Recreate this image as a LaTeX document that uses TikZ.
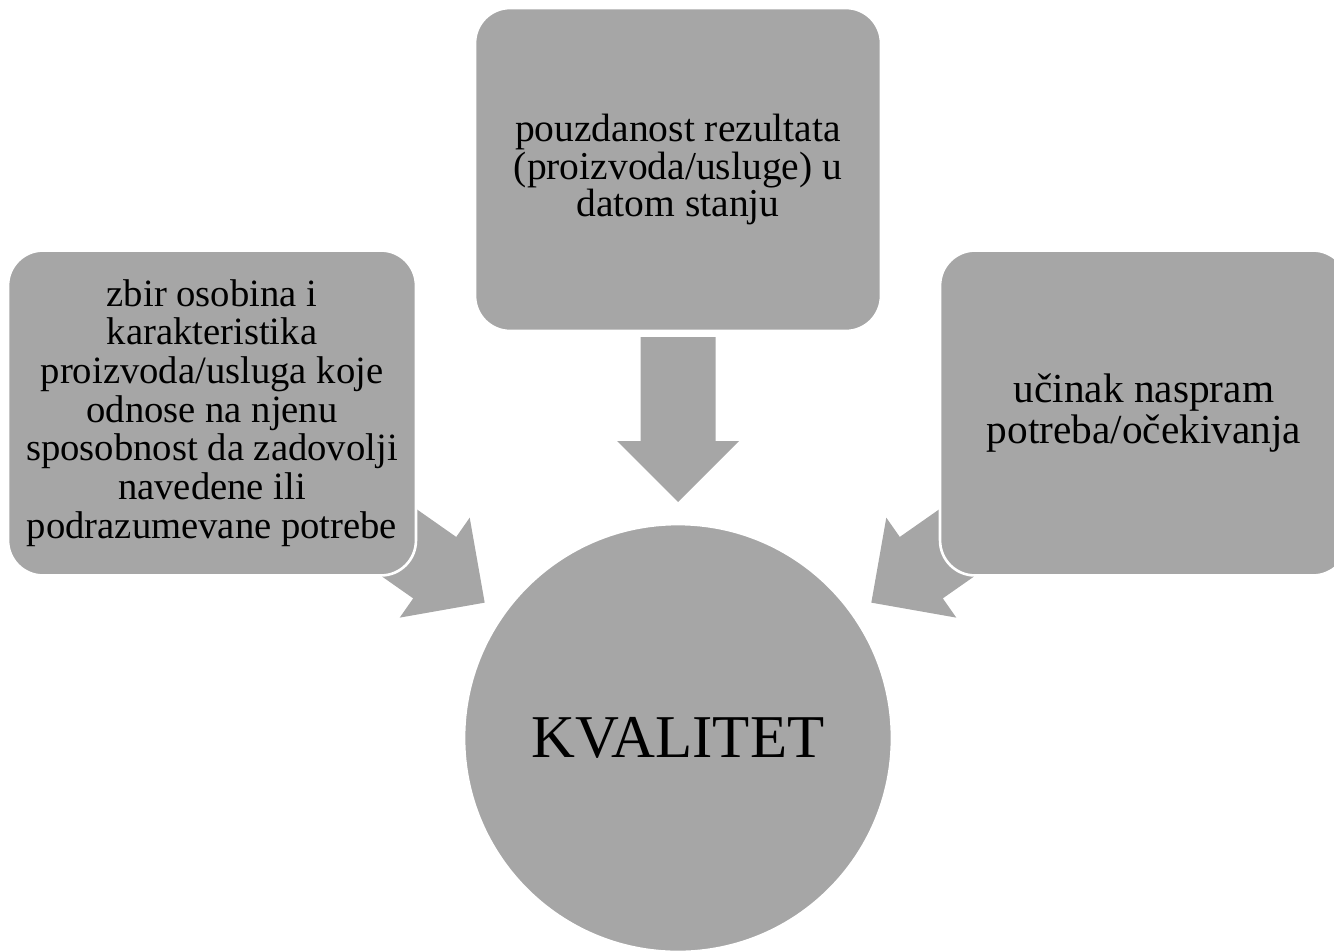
\documentclass[tikz,border=0pt]{standalone}
\usepackage{fontspec}
\setmainfont{Liberation Serif}
\usepackage{tikz}
\definecolor{boxgray}{HTML}{A6A6A6}

\begin{document}
\begin{tikzpicture}[x=0.02cm,y=-0.02cm,
    box/.style={draw=white,line width=1.5pt,fill=boxgray,rounded corners=0.7cm,
      minimum width=8.16cm,minimum height=6.5cm,align=center,inner sep=0pt},
    boxtext/.style={font=\fontsize{22}{22}\selectfont}]
  \useasboundingbox (0,0) rectangle (1334,950);
  \coordinate (c) at (678,738);
  \foreach \ang in {0,55,-55} {
    \fill [boxgray,shift={(c)},rotate=\ang] (0,-236) -- (61,-297) -- (37.5,-297) -- (37.5,-401) -- (-37.5,-401) -- (-37.5,-297) -- (-61,-297) -- cycle;
  }
  \node [box,minimum width=8.12cm,minimum height=6.46cm,font=\fontsize{22.5}{21.5}\selectfont] (reliab) at (678,169.5) {pouzdanost rezultata\\(proizvoda/usluge) u\\datom stanju};
  \node [box,boxtext] (props) at (212,413) {zbir osobina i\\karakteristika\\proizvoda/usluga koje\\odnose na njenu\\sposobnost da zadovolji\\navedene ili\\podrazumevane potrebe};
  \node [box,boxtext,font=\fontsize{23.5}{23}\selectfont] (perf) at (1144,413) {učinak naspram\\potreba/očekivanja};
  \node [circle,draw=white,line width=1.5pt,fill=boxgray,minimum size=8.56cm,font=\fontsize{34.6}{40}\selectfont] (kval) at (c) {KVALITET};
\end{tikzpicture}
\end{document}
